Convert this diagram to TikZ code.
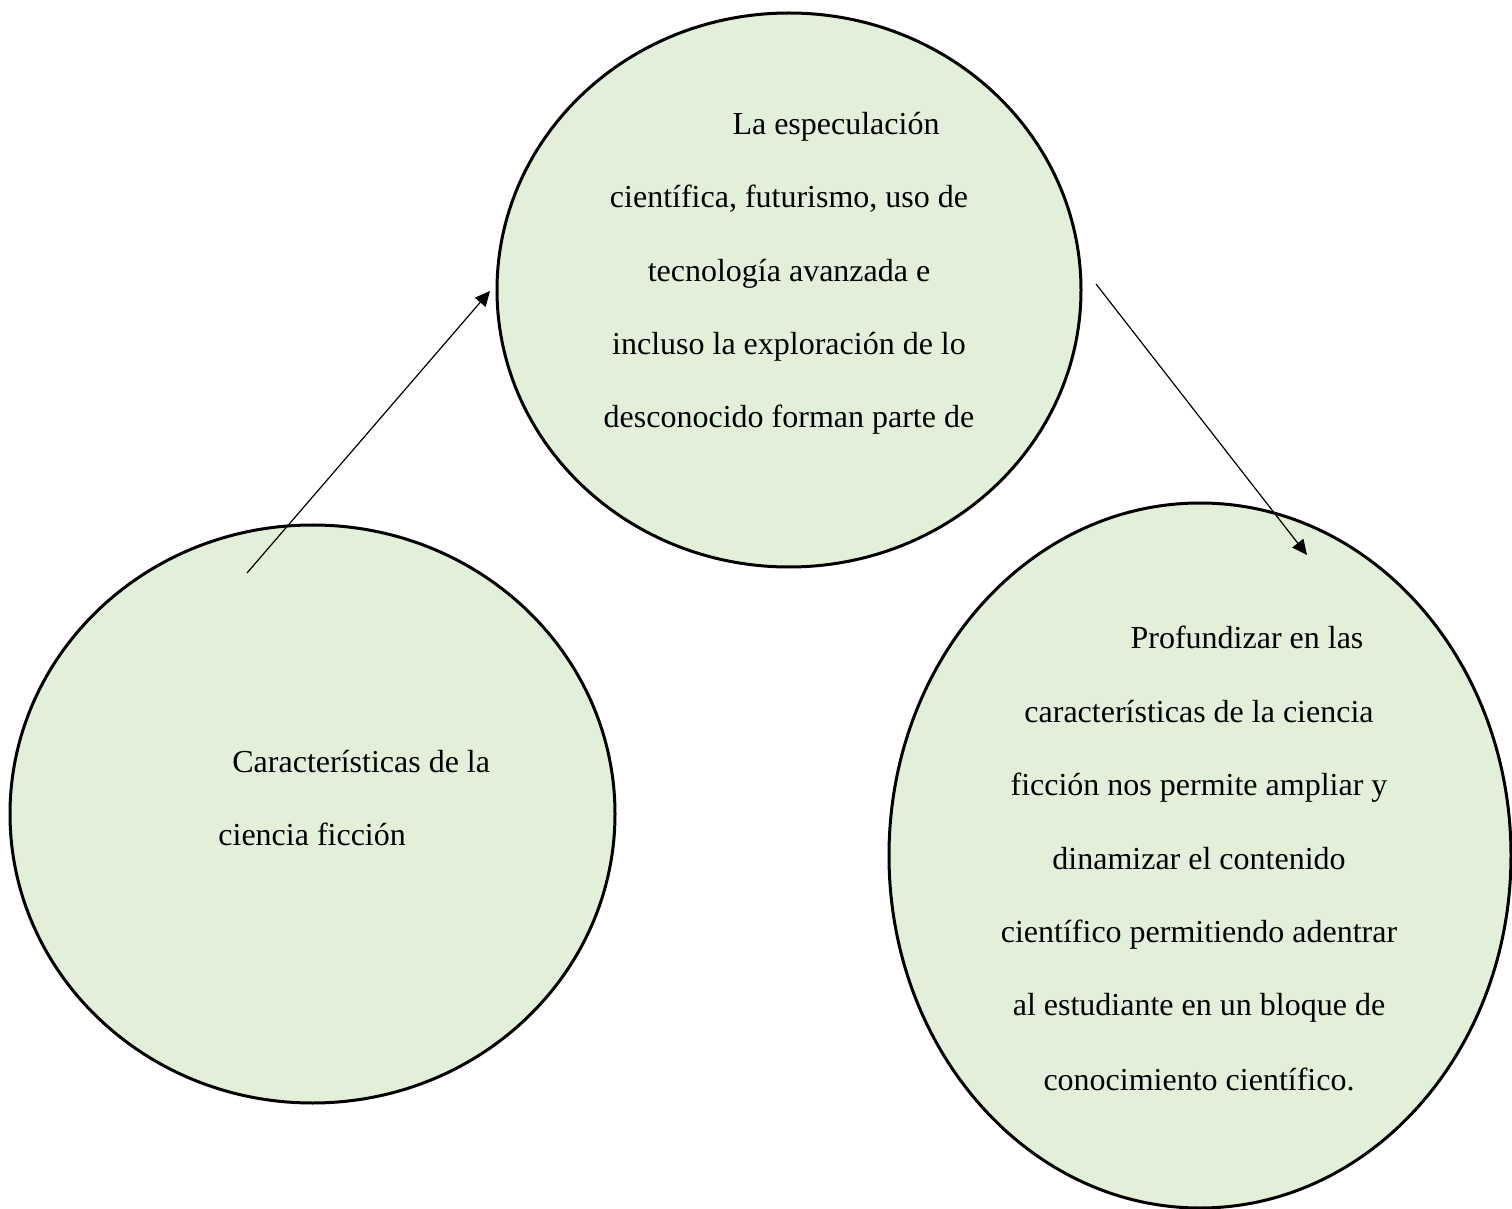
\documentclass[tikz,border=0pt]{standalone}
\usepackage{fontspec}
\setmainfont{Liberation Serif}
\usetikzlibrary{shapes.geometric,arrows.meta}
\definecolor{bubblefill}{HTML}{E2EFD9}
\begin{document}
\begin{tikzpicture}[x=0.5pt,y=-0.5pt,
  bubble/.style={ellipse,draw=black,line width=1.5pt,fill=bubblefill,inner sep=0pt},
  txt/.style={inner sep=0pt,font=\fontsize{16}{19}\selectfont},
  link/.style={line width=0.6pt,-{Triangle[length=7.5pt,width=7pt]}}]
\useasboundingbox (0,0) rectangle (1512,1209);
% ellipses
\node[bubble,minimum width=292pt,minimum height=277pt] (top) at (789,290) {};
\node[bubble,minimum width=302.5pt,minimum height=289pt] (left) at (312.5,814) {};
\node[bubble,minimum width=311pt,minimum height=352.5pt] (right) at (1200,855.5) {};
% top text
\node[txt,anchor=base] (t1) at (836,135) {La especulación};
\node[txt,anchor=base] (t2) at (789,208) {científica, futurismo, uso de};
\node[txt,anchor=base] (t3) at (789,282) {tecnología avanzada e};
\node[txt,anchor=base] (t4) at (789,355) {incluso la exploración de lo};
\node[txt,anchor=base] (t5) at (789,428) {desconocido forman parte de};
% left text
\node[txt,anchor=base west] (l1) at (232,772) {Características de la};
\node[txt,anchor=base west] (l2) at (218,845) {ciencia ficción};
% right text
\node[txt,anchor=base] (r1) at (1247,648) {Profundizar en las};
\node[txt,anchor=base] (r2) at (1199,722) {características de la ciencia};
\node[txt,anchor=base] (r3) at (1199,795) {ficción nos permite ampliar y};
\node[txt,anchor=base] (r4) at (1199,869) {dinamizar el contenido};
\node[txt,anchor=base] (r5) at (1199,942) {científico permitiendo adentrar};
\node[txt,anchor=base] (r6) at (1199,1015) {al estudiante en un bloque de};
\node[txt,anchor=base] (r7) at (1199,1090) {conocimiento científico.};
% connectors
\coordinate (a1s) at (247,573);
\coordinate (a1e) at (490,291);
\coordinate (a2s) at (1096,284);
\coordinate (a2e) at (1307,555);
\draw[link] (a1s) -- (a1e);
\draw[link] (a2s) -- (a2e);
\end{tikzpicture}
\end{document}
